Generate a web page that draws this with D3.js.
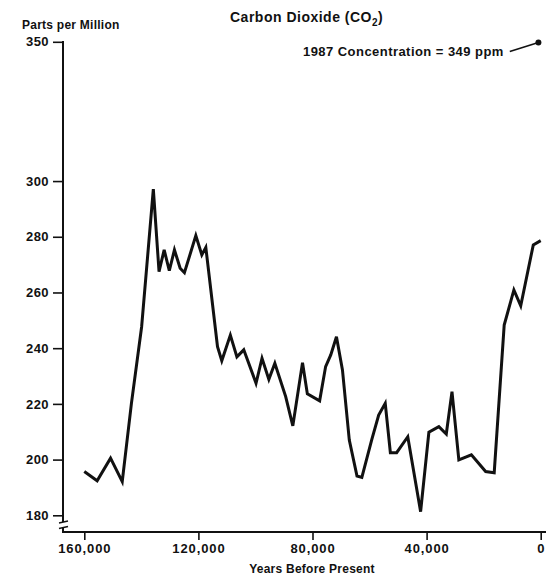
<!DOCTYPE html>
<html>
<head>
<meta charset="utf-8">
<script src="https://cdn.jsdelivr.net/npm/d3@7"></script>
<style>
  body { margin: 0; background: #fff; }
  svg text { font-family: "Liberation Sans", Arial, sans-serif; font-weight: bold; fill: #111; }
</style>
</head>
<body>
<script>
const width = 546;
const height = 578;

// years before present and CO2 (ppm)
const years = [160000, 155500, 150800, 146700, 143500, 139900, 135800, 133800, 132000, 130200,
    128400, 126400, 124900, 120900, 118800, 117400, 113300, 111800, 108800, 106500,
    104100, 99800, 97700, 95300, 93200, 89400, 86900, 83500, 81800, 77500,
    75400, 73600, 71600, 69500, 67100, 64400, 62700, 59200, 56800, 54500,
    52700, 50500, 46600, 42100, 39200, 35700, 33100, 31100, 28700, 24300,
    19300, 16300, 12800, 9400, 7000, 2600, 0];
const ppm = [195.7, 192.4, 200.5, 192.1, 220, 247.7, 297.1, 267.5, 275.3, 267.8,
    275.3, 268.7, 267.1, 280.4, 273.5, 276.2, 240.5, 235.5, 244.7, 236.9,
    239.4, 227.4, 236.4, 228.8, 234.6, 222.6, 212.1, 234.8, 223.6, 221.1,
    233.4, 237.6, 244.1, 232.2, 207, 194.1, 193.6, 207.3, 216, 220.2,
    202.5, 202.5, 208.2, 181.3, 209.8, 211.8, 209.2, 224.4, 199.9, 201.7,
    195.7, 195.3, 248.3, 260.9, 255.2, 277.1, 278.6];

const y_ticks = [180, 200, 220, 240, 260, 280, 300, 350];
const x_ticks = [160000, 120000, 80000, 40000, 0];

// 1987 measurement
const now_year = 800;
const now_ppm = 349;

const axis_x = 63;
const axis_y = 532;

const x = d3.scaleLinear().domain([160000, 0]).range([84.3, 540.7]);
const y = d3.scaleLinear().domain([180, 350]).range([515.3, 41.8]);

const svg = d3.select('body').append('svg')
    .attr('width', width)
    .attr('height', height);

// y axis ticks + labels
const y_axis = svg.append('g')
    .attr('transform', `translate(${axis_x},0)`)
    .call(d3.axisLeft(y).tickValues(y_ticks).tickSize(10).tickPadding(4));
y_axis.select('.domain').remove();
y_axis.selectAll('.tick line').attr('stroke', '#111').attr('stroke-width', 1.6);
y_axis.selectAll('.tick text')
    .style('font-size', '13px')
    .style('letter-spacing', '0.4px')
    .attr('fill', '#111');

// y axis line with a break near the bottom
svg.append('line')
    .attr('x1', axis_x).attr('x2', axis_x)
    .attr('y1', y(350) - 0.8).attr('y2', 522)
    .attr('stroke', '#111').attr('stroke-width', 2);
svg.append('line')
    .attr('x1', axis_x).attr('x2', axis_x)
    .attr('y1', 527.5).attr('y2', axis_y)
    .attr('stroke', '#111').attr('stroke-width', 2);
svg.selectAll('.brk')
    .data([522, 527.5])
    .enter()
    .append('line')
        .attr('class', 'brk')
        .attr('x1', axis_x - 4).attr('x2', axis_x + 5)
        .attr('y1', (d) => d + 1).attr('y2', (d) => d - 1)
        .attr('stroke', '#111').attr('stroke-width', 1.4);

// x axis
const x_axis = svg.append('g')
    .attr('transform', `translate(0,${axis_y})`)
    .call(d3.axisBottom(x).tickValues(x_ticks).tickSize(8).tickPadding(4).tickFormat(d3.format(',')));
x_axis.select('.domain').remove();
x_axis.selectAll('.tick line').attr('stroke', '#111').attr('stroke-width', 1.6);
x_axis.selectAll('.tick text')
    .style('font-size', '13px')
    .style('letter-spacing', '0.9px')
    .attr('fill', '#111');
svg.append('line')
    .attr('x1', axis_x - 1).attr('x2', width)
    .attr('y1', axis_y).attr('y2', axis_y)
    .attr('stroke', '#111').attr('stroke-width', 2);

// the CO2 curve
const line = d3.line()
    .x((d) => x(d[0]))
    .y((d) => y(d[1]));
svg.append('path')
    .datum(years.map((t, i) => [t, ppm[i]]))
    .attr('d', line)
    .attr('fill', 'none')
    .attr('stroke', '#111')
    .attr('stroke-width', 3)
    .attr('stroke-linejoin', 'miter');

// titles
svg.append('text')
    .attr('x', 230).attr('y', 22)
    .style('font-size', '14px')
    .style('letter-spacing', '0.5px')
    .text('Carbon Dioxide (CO')
    .append('tspan').attr('dy', 4).style('font-size', '10px').text('2')
    .select(function() { return this.parentNode; })
    .append('tspan').attr('dy', -4).text(')');

svg.append('text')
    .attr('x', 22).attr('y', 29)
    .style('font-size', '12px')
    .style('letter-spacing', '0.25px')
    .text('Parts per Million');

svg.append('text')
    .attr('x', 312).attr('y', 573)
    .attr('text-anchor', 'middle')
    .style('font-size', '12px')
    .style('letter-spacing', '0.25px')
    .text('Years Before Present');

// 1987 annotation
const note = svg.append('text')
    .attr('x', 303).attr('y', 56)
    .style('font-size', '13px')
    .style('letter-spacing', '0.45px')
    .text('1987 Concentration  =  349 ppm');
const note_end = 303 + note.node().getComputedTextLength() + 6;
svg.append('line')
    .attr('x1', note_end).attr('y1', 51.5)
    .attr('x2', x(now_year)).attr('y2', y(now_ppm) - 2)
    .attr('stroke', '#111').attr('stroke-width', 1.6);
svg.append('circle')
    .attr('cx', x(now_year)).attr('cy', y(now_ppm) - 2)
    .attr('r', 3)
    .attr('fill', '#111');
</script>
</body>
</html>
